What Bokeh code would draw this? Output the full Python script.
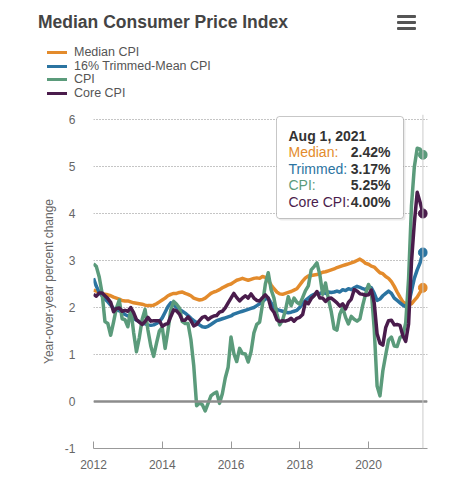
from bokeh.plotting import figure
from bokeh.layouts import column
from bokeh.models import (Range1d, FixedTicker, Span, Label, BoxAnnotation, Div,
                          NumeralTickFormatter)
from bokeh.embed import file_html
from bokeh.resources import INLINE

# ---------------- data (year-over-year % change, monthly Jan 2012 - Aug 2021) -------------
start_year = 2012
median_cpi = [
    2.37, 2.35, 2.32, 2.30, 2.28, 2.27, 2.25, 2.22, 2.20, 2.18, 2.15, 2.14,
    2.14, 2.12, 2.10, 2.09, 2.08, 2.07, 2.05, 2.04, 2.04, 2.05, 2.08, 2.12,
    2.16, 2.20, 2.25, 2.28, 2.30, 2.30, 2.32, 2.33, 2.30, 2.28, 2.25, 2.20,
    2.18, 2.16, 2.17, 2.20, 2.25, 2.30, 2.33, 2.35, 2.38, 2.42, 2.45, 2.48,
    2.50, 2.54, 2.58, 2.60, 2.62, 2.60, 2.58, 2.60, 2.62, 2.63, 2.62, 2.66,
    2.64, 2.58, 2.48, 2.40, 2.33, 2.29, 2.28, 2.30, 2.32, 2.34, 2.37, 2.40,
    2.48, 2.56, 2.63, 2.67, 2.68, 2.69, 2.70, 2.72, 2.75, 2.76, 2.78, 2.80,
    2.82, 2.85, 2.87, 2.89, 2.91, 2.93, 2.95, 2.97, 3.00, 3.03, 2.99, 2.94,
    2.92, 2.88, 2.86, 2.80, 2.74, 2.72, 2.66, 2.62, 2.55, 2.45, 2.33, 2.22,
    2.12, 2.08, 2.05, 2.08, 2.15, 2.22, 2.32, 2.42,
]
trimmed_mean_cpi = [
    2.62, 2.45, 2.32, 2.25, 2.18, 2.12, 2.05, 1.98, 1.95, 1.93, 1.90, 1.85,
    1.82, 1.80, 1.77, 1.73, 1.70, 1.67, 1.65, 1.63, 1.62, 1.63, 1.66, 1.70,
    1.78, 1.90, 2.02, 2.10, 2.06, 2.00, 1.96, 1.92, 1.88, 1.83, 1.77, 1.72,
    1.68, 1.63, 1.59, 1.58, 1.60, 1.64, 1.68, 1.72, 1.74, 1.76, 1.78, 1.80,
    1.82, 1.86, 1.88, 1.90, 1.92, 1.94, 1.96, 1.98, 2.00, 2.04, 2.08, 2.12,
    2.18, 2.20, 2.10, 2.00, 1.96, 1.94, 1.92, 1.90, 1.89, 1.90, 1.92, 1.94,
    2.00, 2.08, 2.15, 2.20, 2.25, 2.28, 2.30, 2.30, 2.32, 2.30, 2.33, 2.32,
    2.33, 2.35, 2.33, 2.38, 2.36, 2.40, 2.38, 2.42, 2.45, 2.43, 2.40, 2.38,
    2.45, 2.42, 2.30, 2.15, 2.18, 2.25, 2.30, 2.35, 2.30, 2.20, 2.15, 2.10,
    2.05, 2.02, 2.08, 2.35, 2.62, 2.80, 2.95, 3.17,
]
cpi = [
    2.93, 2.87, 2.65, 2.30, 1.70, 1.66, 1.41, 1.69, 1.99, 2.16, 1.76, 1.74,
    1.59, 1.98, 1.47, 1.06, 1.36, 1.75, 1.96, 1.52, 1.18, 0.96, 1.24, 1.50,
    1.58, 1.13, 1.51, 1.95, 2.13, 2.07, 1.99, 1.70, 1.66, 1.66, 1.32, 0.76,
    -0.09, -0.03, -0.07, -0.20, -0.04, 0.12, 0.17, 0.20, -0.04, 0.17, 0.50, 0.73,
    1.37, 1.02, 0.85, 1.13, 1.02, 1.01, 0.84, 1.06, 1.46, 1.64, 1.69, 2.07,
    2.50, 2.74, 2.38, 2.20, 1.87, 1.63, 1.73, 1.94, 2.23, 2.04, 2.20, 2.11,
    2.07, 2.21, 2.36, 2.46, 2.80, 2.87, 2.95, 2.70, 2.28, 2.52, 2.18, 1.91,
    1.55, 1.52, 1.86, 2.00, 1.79, 1.65, 1.81, 1.75, 1.71, 1.76, 2.05, 2.29,
    2.49, 2.33, 1.54, 0.33, 0.12, 0.65, 0.99, 1.31, 1.37, 1.18, 1.17, 1.36,
    1.40, 1.68, 2.62, 4.16, 4.99, 5.39, 5.37, 5.25,
]
core_cpi = [
    2.28, 2.24, 2.31, 2.31, 2.25, 2.19, 2.11, 1.91, 1.98, 1.99, 1.92, 1.94,
    1.92, 2.00, 1.89, 1.74, 1.69, 1.64, 1.70, 1.79, 1.71, 1.72, 1.72, 1.72,
    1.60, 1.64, 1.66, 1.81, 1.95, 1.93, 1.86, 1.73, 1.73, 1.80, 1.72, 1.61,
    1.64, 1.72, 1.79, 1.81, 1.74, 1.79, 1.82, 1.83, 1.90, 1.92, 1.99, 2.10,
    2.20, 2.30, 2.21, 2.14, 2.20, 2.25, 2.20, 2.29, 2.20, 2.15, 2.14, 2.21,
    2.27, 2.20, 1.98, 1.90, 1.74, 1.70, 1.72, 1.71, 1.73, 1.77, 1.71, 1.77,
    1.79, 1.85, 2.12, 2.08, 2.19, 2.25, 2.34, 2.20, 2.20, 2.13, 2.19, 2.20,
    2.15, 2.10, 2.03, 2.08, 1.97, 2.11, 2.18, 2.38, 2.35, 2.29, 2.28, 2.26,
    2.27, 2.37, 2.10, 1.44, 1.24, 1.20, 1.57, 1.72, 1.73, 1.63, 1.64, 1.62,
    1.40, 1.28, 1.65, 2.96, 3.80, 4.45, 4.24, 4.00,
]
series_names = ["Median CPI", "16% Trimmed-Mean CPI", "CPI", "Core CPI"]
tooltip_names = ["Median:", "Trimmed:", "CPI:", "Core CPI:"]
tooltip_date = "Aug 1, 2021"
chart_title = "Median Consumer Price Index"
x_ticks = [2012, 2014, 2016, 2018, 2020]
y_ticks = [-1, 0, 1, 2, 3, 4, 5, 6]

# ---------------- styles / layout ----------------
colors = ["#e38b2c", "#2b74a1", "#5b9b7b", "#4a1c4c"]
FONT = "Liberation Sans"
W = 452
HEAD_H = 100          # header strip (title, menu icon, legend)
F_LEFT, F_RIGHT, F_TOP, F_BOTTOM = 93, 427, 114, 448   # frame on the page (px)
MAIN_H = 376
PX_PER_YEAR = 34.375
PX_PER_UNIT = 47.0

x_start = 2012.0
x_end = x_start + (F_RIGHT - F_LEFT) / PX_PER_YEAR
y_start = -1.0
y_end = y_start + (F_BOTTOM - F_TOP) / PX_PER_UNIT

def dx(px):
    return x_start + (px - F_LEFT) / PX_PER_YEAR

def dy(py):
    return y_start + (F_BOTTOM - py) / PX_PER_UNIT

def sx(px):
    return px - F_LEFT

def sy(py):
    return F_BOTTOM - py

n = len(cpi)
x = [start_year + i / 12 for i in range(n)]

# ---------------- header (title, menu icon, legend) ----------------
parts = [f'<div style="position:relative;width:{W}px;height:{HEAD_H}px;'
         f'font-family:\'{FONT}\',Arial,sans-serif;margin:0;padding:0;">']
parts.append('<div style="position:absolute;left:38px;top:14px;font-size:17.5px;'
             'line-height:17.5px;font-weight:bold;color:#444444;white-space:nowrap;">'
             f'{chart_title}</div>')
for top in (15, 21, 27):
    parts.append(f'<div style="position:absolute;left:397px;top:{top}px;width:19px;'
                 'height:2.5px;background:#555555;border-radius:1px;"></div>')
row_centers = [52, 66, 79.5, 93]
for nm, c, cy in zip(series_names, colors, row_centers):
    parts.append(f'<div style="position:absolute;left:47px;top:{cy - 1.5}px;width:20px;'
                 f'height:3px;background:{c};"></div>')
    parts.append(f'<div style="position:absolute;left:74px;top:{cy - 6.3}px;'
                 'font-size:12.5px;line-height:13px;color:#555555;white-space:nowrap;">'
                 f'{nm}</div>')
parts.append('</div>')
head = Div(text="".join(parts), width=W, height=HEAD_H, margin=0)

# ---------------- main chart ----------------
p = figure(width=W, height=MAIN_H, output_backend="svg", toolbar_location=None,
           x_range=Range1d(x_start, x_end), y_range=Range1d(y_start, y_end),
           min_border_left=F_LEFT, min_border_right=W - F_RIGHT,
           min_border_top=F_TOP - HEAD_H, min_border_bottom=MAIN_H - (F_BOTTOM - HEAD_H))
p.outline_line_color = None
p.background_fill_color = "white"
p.border_fill_color = "white"

p.xaxis.ticker = FixedTicker(ticks=x_ticks)
p.xaxis.major_tick_in = 7
p.xaxis.major_tick_out = 0
p.xaxis.minor_tick_line_color = None
p.xaxis.axis_line_color = "#999999"
p.xaxis.major_tick_line_color = "#999999"
p.xaxis.major_label_text_color = "#666666"
p.xaxis.major_label_text_font = FONT
p.xaxis.major_label_text_font_size = "12px"
p.xaxis.major_label_standoff = 11

p.yaxis.ticker = FixedTicker(ticks=y_ticks)
p.yaxis.formatter = NumeralTickFormatter(format="0")
p.yaxis.axis_line_color = None
p.yaxis.major_tick_line_color = None
p.yaxis.minor_tick_line_color = None
p.yaxis.major_tick_out = 0
p.yaxis.major_tick_in = 0
p.yaxis.major_label_text_color = "#666666"
p.yaxis.major_label_text_font = FONT
p.yaxis.major_label_text_font_size = "12px"
p.yaxis.major_label_standoff = 18
p.yaxis.axis_label = "Year-over-year percent change"
p.yaxis.axis_label_text_font = FONT
p.yaxis.axis_label_text_font_size = "12px"
p.yaxis.axis_label_text_font_style = "normal"
p.yaxis.axis_label_text_color = "#666666"
p.yaxis.axis_label_standoff = 6

p.xgrid.grid_line_color = None
p.ygrid.ticker = FixedTicker(ticks=y_ticks)
p.ygrid.grid_line_color = "#8a8a8a"
p.ygrid.grid_line_dash = "1 2"
p.ygrid.grid_line_width = 1

p.add_layout(Span(location=0, dimension="width", line_color="#8c8c8c", line_width=2.5))
p.add_layout(Span(location=x[-1], dimension="height", line_color="#cccccc", line_width=1))

for vals, c, nm in zip([median_cpi, trimmed_mean_cpi, cpi, core_cpi], colors, series_names):
    p.line(x, vals, line_color=c, line_width=3.5, line_join="round", name=nm)
for vals, c in zip([median_cpi, trimmed_mean_cpi, cpi, core_cpi], colors):
    p.scatter([x[-1]], [vals[-1]], size=9, fill_color=c, line_color=c)

# tooltip
p.add_layout(BoxAnnotation(left=dx(278), right=dx(405), top=dy(118), bottom=dy(220),
                           fill_color="#000000", fill_alpha=0.08, line_color=None,
                           border_radius=3))
p.add_layout(BoxAnnotation(left=dx(276), right=dx(403), top=dy(116), bottom=dy(218),
                           fill_color="white", fill_alpha=1.0, line_color="#444444",
                           line_width=1, border_radius=3))
p.add_layout(Label(x=sx(288), y=sy(135), x_units="screen", y_units="screen",
                   text=tooltip_date, text_font=FONT, text_font_size="14px",
                   text_font_style="bold", text_color="#333333", text_baseline="middle"))
last_vals = [median_cpi[-1], trimmed_mean_cpi[-1], cpi[-1], core_cpi[-1]]
for i, (nm, v, c) in enumerate(zip(tooltip_names, last_vals, colors)):
    cy = 151.5 + i * 16.5
    p.add_layout(Label(x=sx(288), y=sy(cy), x_units="screen", y_units="screen",
                       text=nm, text_font=FONT, text_font_size="14px",
                       text_color=c, text_baseline="middle"))
    p.add_layout(Label(x=sx(390), y=sy(cy), x_units="screen", y_units="screen",
                       text=f"{v:.2f}%", text_font=FONT, text_font_size="14px",
                       text_font_style="bold", text_color="#333333",
                       text_align="right", text_baseline="middle"))

layout = column(head, p, spacing=0)
open("out.html", "w").write(file_html(layout, INLINE))
